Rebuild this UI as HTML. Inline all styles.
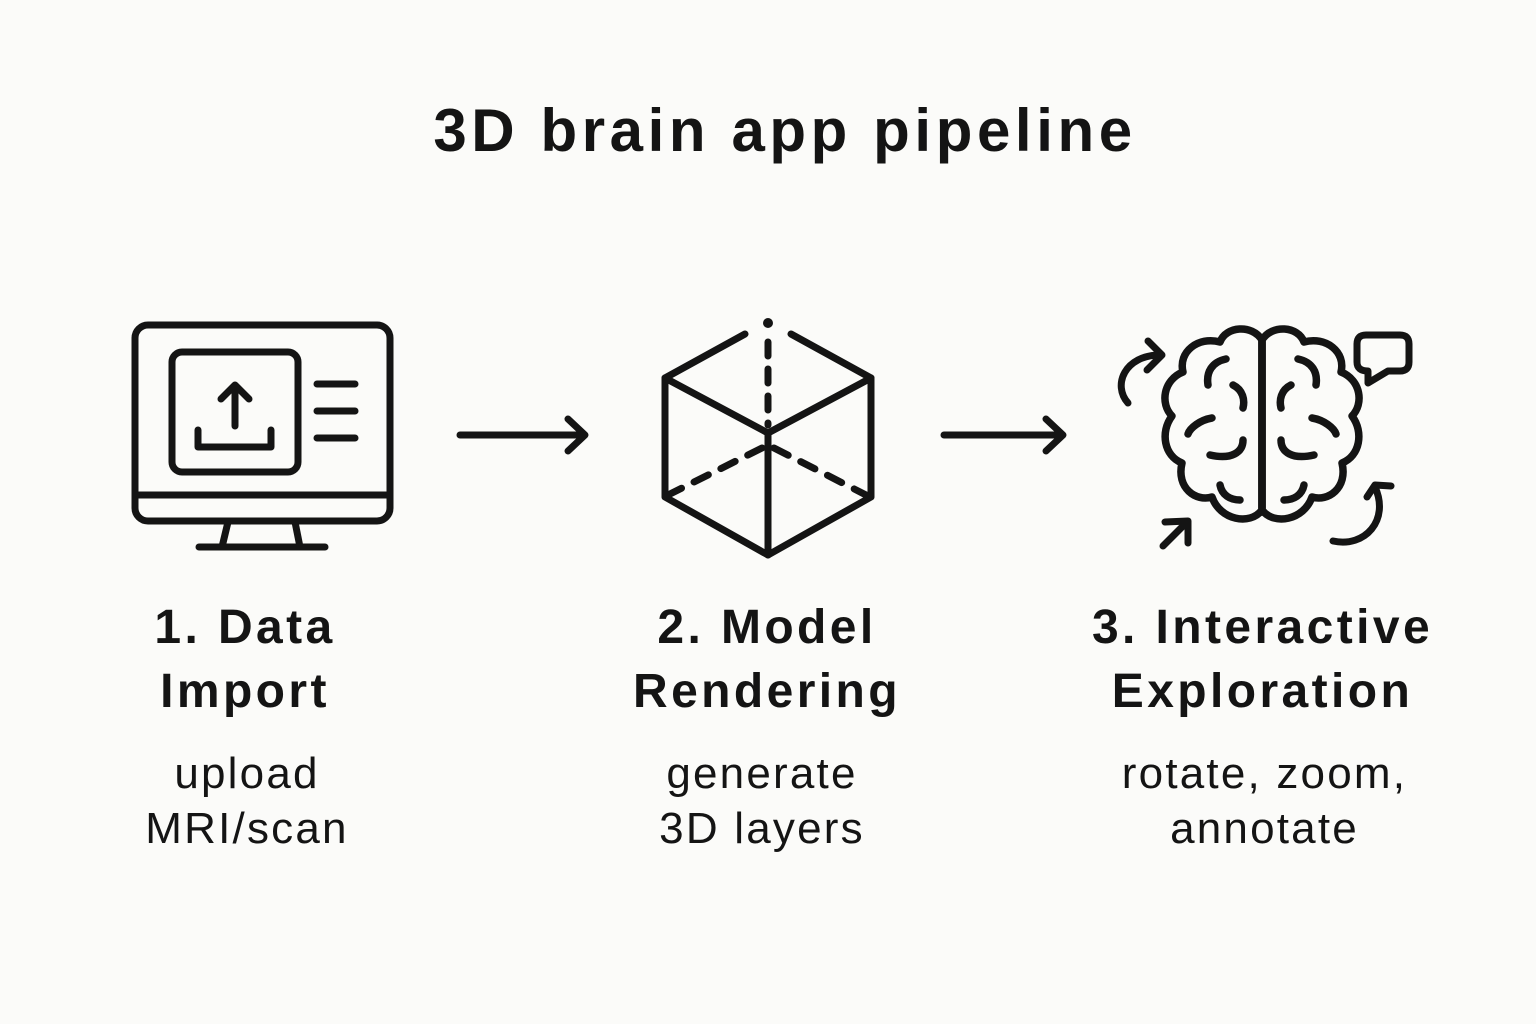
<!DOCTYPE html>
<html><head><meta charset="utf-8"><style>
html,body{margin:0;padding:0;background:#fbfbf9;}
.wrap{position:relative;width:1536px;height:1024px;overflow:hidden;font-family:"Liberation Sans",sans-serif;color:#141414;}
.t{position:absolute;text-align:center;white-space:nowrap;}
.h{font-size:48px;font-weight:bold;line-height:64px;letter-spacing:3.4px;top:596px;}
.d{font-size:44px;line-height:55px;letter-spacing:2.2px;top:746px;}
</style></head><body><div class="wrap">
<div class="t" style="left:0;width:1570px;top:96px;font-size:60px;font-weight:bold;letter-spacing:4.6px;">3D brain app pipeline</div>
<div class="t h" style="left:40px;width:410px;">1. Data<br>Import</div>
<div class="t h" style="left:562px;width:410px;">2. Model<br>Rendering</div>
<div class="t h" style="left:1060px;width:405px;">3. Interactive<br>Exploration</div>
<div class="t d" style="left:42px;width:410px;">upload<br>MRI/scan</div>
<div class="t d" style="left:557px;width:410px;">generate<br>3D layers</div>
<div class="t d" style="left:1062px;width:405px;">rotate, zoom,<br>annotate</div>
<svg width="1536" height="1024" style="position:absolute;left:0;top:0" fill="none" stroke="#141414" stroke-width="7" stroke-linecap="round" stroke-linejoin="round">
<rect x="135" y="325" width="255" height="196" rx="13"/>
<line x1="137" y1="495" x2="388" y2="495"/>
<line x1="228" y1="522" x2="222" y2="547"/><line x1="295" y1="522" x2="300" y2="547"/>
<line x1="199" y1="547" x2="325" y2="547"/>
<rect x="172" y="352" width="126" height="120" rx="10"/>
<line x1="235" y1="387" x2="235" y2="426"/><polyline points="221,399 235,385 249,399"/>
<polyline points="198,430 198,447 271,447 271,430"/>
<line x1="317" y1="384" x2="355" y2="384"/><line x1="317" y1="411" x2="355" y2="411"/><line x1="317" y1="438" x2="355" y2="438"/>
<line x1="460" y1="435" x2="583" y2="435"/><polyline points="568,419 585,435 568,451"/>
<line x1="944" y1="435" x2="1061" y2="435"/><polyline points="1046,419 1063,435 1046,451"/>
<circle cx="768" cy="323" r="5" fill="#141414" stroke="none"/>
<polyline points="745,334 665,378 665,497 768,555 871,497 871,378 791,334"/>
<polyline points="665,378 768,433 871,378"/>
<line x1="768" y1="433" x2="768" y2="555"/>
<line x1="768" y1="342" x2="768" y2="425" stroke-dasharray="14,13"/>
<line x1="762" y1="448" x2="668" y2="495" stroke-dasharray="16,14"/>
<line x1="774" y1="448" x2="866" y2="495" stroke-dasharray="16,14"/>
<g stroke-width="7.5">
<path d="M1262,340 C1252,324 1226,326 1220,342 C1198,336 1178,352 1183,372 C1163,380 1160,404 1172,416 C1160,432 1164,456 1182,463 C1176,488 1196,502 1212,497 C1220,520 1250,526 1262,510 Z"/>
<path d="M1262,340 C1272,324 1298,326 1304,342 C1326,336 1346,352 1341,372 C1361,380 1364,404 1352,416 C1364,432 1360,456 1342,463 C1348,488 1328,502 1312,497 C1304,520 1274,526 1262,510 Z"/>
<line x1="1262" y1="340" x2="1262" y2="512"/>
<path d="M1226,359 C1212,362 1206,372 1208,385"/><path d="M1233,385 C1243,390 1245,400 1243,408"/>
<path d="M1212,418 C1200,420 1190,428 1188,434"/><path d="M1243,440 C1243,452 1232,460 1210,455"/>
<path d="M1220,485 C1222,495 1230,500 1240,500"/>
<path d="M1298,359 C1312,362 1318,372 1316,385"/><path d="M1291,385 C1281,390 1279,400 1281,408"/>
<path d="M1312,418 C1324,420 1334,428 1336,434"/><path d="M1281,440 C1281,452 1292,460 1314,455"/>
<path d="M1304,485 C1302,495 1294,500 1284,500"/>
</g>
<path d="M1128,403 C1112,385 1125,355 1160,355"/><polyline points="1148,341 1162,355 1147,370"/>
<path d="M1333,541 C1365,548 1390,520 1375,487"/><polyline points="1367,497 1375,485 1391,486"/>
<line x1="1163" y1="546" x2="1187" y2="522"/><polyline points="1165,522 1188,521 1188,543"/>
<path d="M1366,335 L1400,335 Q1409,335 1409,344 L1409,362 Q1409,371 1400,371 L1388,371 L1368,383 L1368,371 Q1357,371 1357,362 L1357,344 Q1357,335 1366,335 Z"/>
</svg>
</div></body></html>
